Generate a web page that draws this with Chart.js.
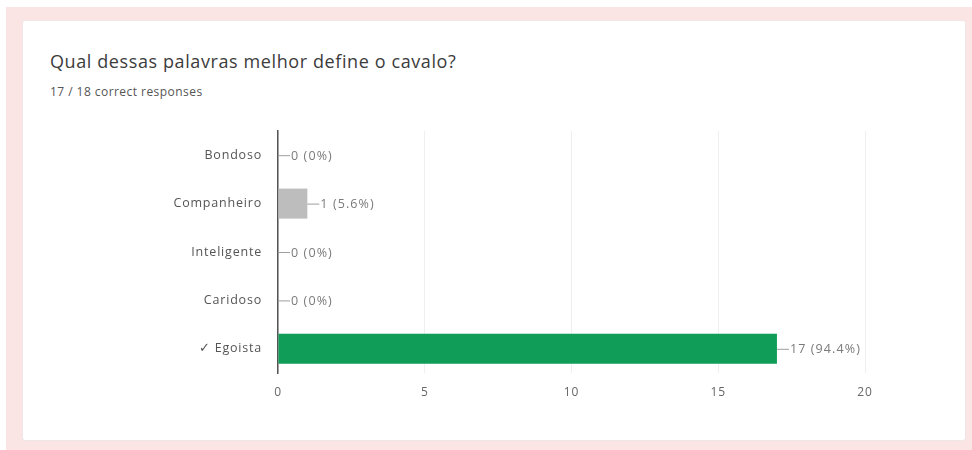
<!DOCTYPE html>
<html>
<head>
<meta charset="utf-8">
<script src="https://cdn.jsdelivr.net/npm/chart.js@4"></script>
<style>
  html, body { margin: 0; padding: 0; background: #fff; width: 972px; height: 450px; overflow: hidden; font-family: "Open Sans", Roboto, sans-serif; }
  #band { position: absolute; left: 6px; top: 7px; width: 966px; height: 443px; background: #fbe5e4; }
  #card { position: absolute; left: 22px; top: 20px; width: 942px; height: 419px; background: #fff; border: 1px solid #f1e6e6; border-radius: 3px; }
  #title { position: absolute; left: 50px; top: 49px; font-size: 18px; letter-spacing: 0.6px; color: #3c3c3c; }
  #sub { position: absolute; left: 50px; top: 83px; font-size: 12px; letter-spacing: 0.45px; color: #555; }
  #wrap { position: absolute; left: 0; top: 0; width: 972px; height: 450px; }
</style>
</head>
<body>
<div id="band"></div>
<div id="card"></div>
<div id="title">Qual dessas palavras melhor define o cavalo?</div>
<div id="sub">17 / 18 correct responses</div>
<div id="wrap"><canvas id="c" width="972" height="450"></canvas></div>
<script>
const categories = ["Bondoso", "Companheiro", "Inteligente", "Caridoso", "\u2713 Egoista"];
const counts = [0, 1, 0, 0, 17];
const barColors = ["#bdbdbd", "#bdbdbd", "#bdbdbd", "#bdbdbd", "#0f9d58"];
const xTicks = [0, 5, 10, 15, 20];
const total = counts.reduce((a, b) => a + b, 0);

const spacingPlugin = {
  id: 'spacing',
  beforeDraw(chart) { chart.ctx.letterSpacing = '0.8px'; }
};

const labelPlugin = {
  id: 'endLabels',
  afterDatasetsDraw(chart) {
    const ctx = chart.ctx;
    const meta = chart.getDatasetMeta(0);
    ctx.save();
    ctx.letterSpacing = '1.1px';
    ctx.font = '12.5px "Open Sans", Roboto, sans-serif';
    ctx.textBaseline = 'middle';
    meta.data.forEach((bar, i) => {
      const x = bar.x, y = bar.y;
      ctx.strokeStyle = '#9e9e9e';
      ctx.lineWidth = 1;
      ctx.beginPath();
      ctx.moveTo(x, y + 0.5);
      ctx.lineTo(x + 12, y + 0.5);
      ctx.stroke();
      const pct = total ? (counts[i] / total * 100) : 0;
      const pctStr = (Math.round(pct * 10) / 10).toString();
      ctx.fillStyle = '#7a7a7a';
      ctx.fillText(counts[i] + ' (' + pctStr + '%)', x + 13, y + 1);
    });
    ctx.restore();
  }
};

new Chart(document.getElementById('c'), {
  type: 'bar',
  data: {
    labels: categories,
    datasets: [{
      data: counts,
      backgroundColor: barColors,
      borderWidth: 0,
      barPercentage: 0.62,
      categoryPercentage: 1
    }]
  },
  plugins: [spacingPlugin, labelPlugin],
  options: {
    indexAxis: 'y',
    responsive: false,
    animation: false,
    events: [],
    layout: { padding: { left: 0, top: 131, right: 107, bottom: 0 } },
    plugins: { legend: { display: false }, tooltip: { enabled: false } },
    scales: {
      x: {
        min: 0, max: 20,
        afterBuildTicks(axis) { axis.ticks = xTicks.map(v => ({ value: v })); },
        afterFit(axis) { axis.height = 77; },
        grid: { color: '#efefef', drawTicks: false },
        border: { display: false },
        ticks: { padding: 12, color: '#666', font: { size: 12, family: '"Open Sans"' } }
      },
      y: {
        afterFit(axis) { axis.width = 278; },
        grid: { display: false, drawTicks: false },
        border: { display: true, color: '#555', width: 1.5 },
        ticks: { padding: 16, color: '#555', font: { size: 12.5, family: '"Open Sans"' } }
      }
    }
  }
});
</script>
</body>
</html>
